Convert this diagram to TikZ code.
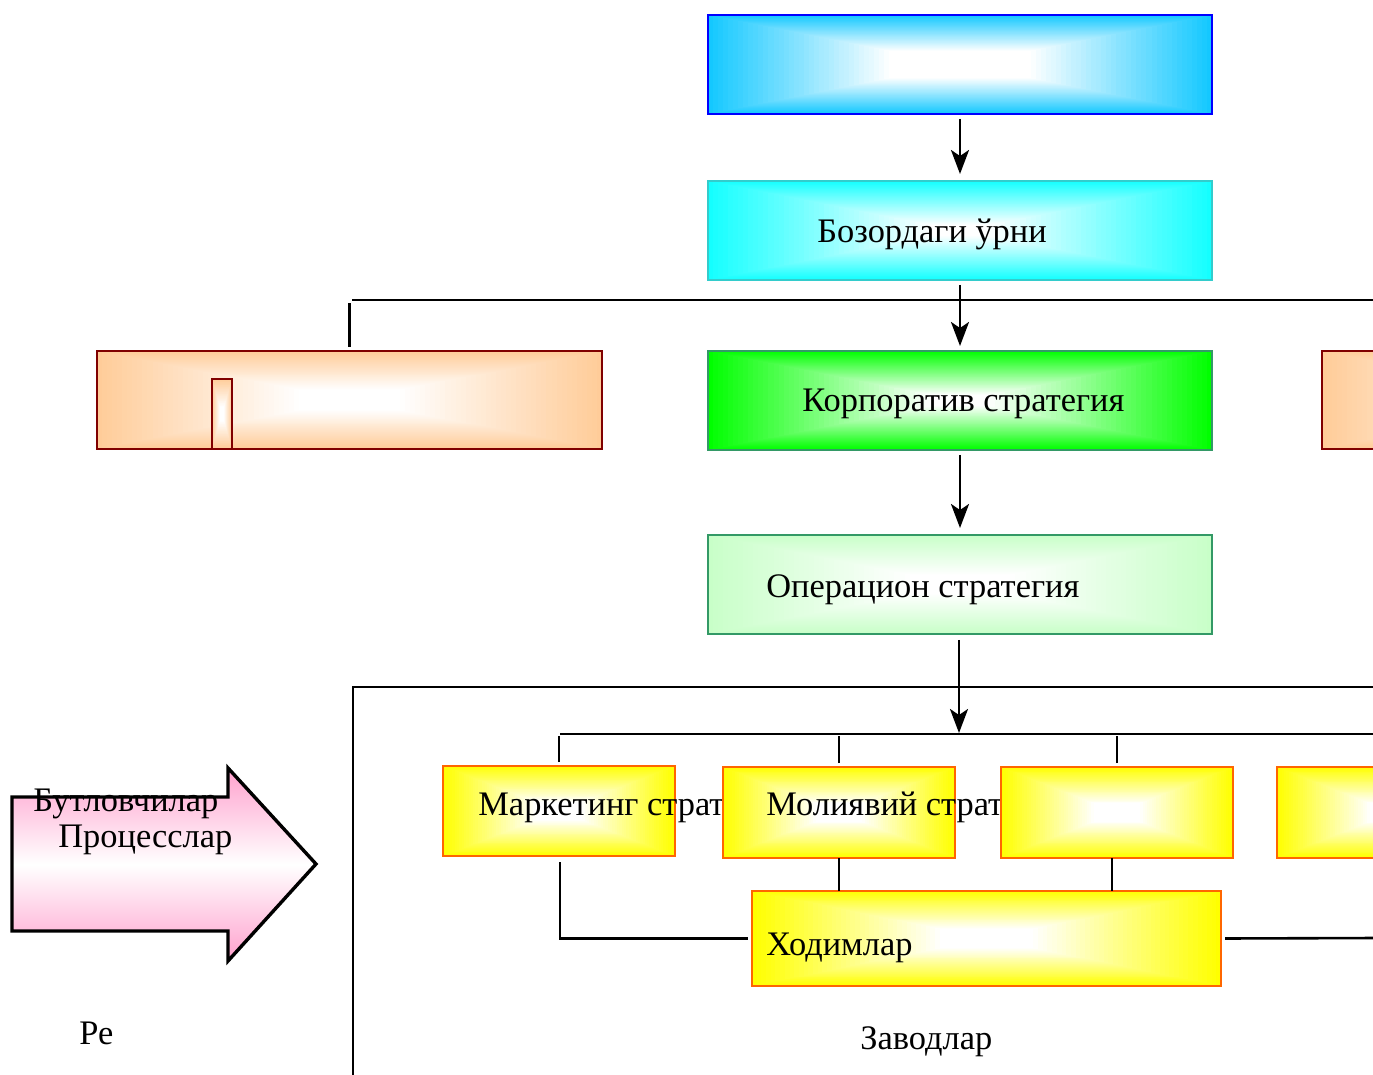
\documentclass[tikz,border=0pt]{standalone}
\usepackage{fontspec}
\setmainfont{Liberation Serif}
\usetikzlibrary{arrows.meta,calc,fit}
\definecolor{cSky}{RGB}{20,200,255}
\definecolor{cAqua}{RGB}{20,255,255}
\definecolor{cAquaB}{RGB}{51,204,204}
\definecolor{cGreen}{RGB}{0,255,0}
\definecolor{cGreenB}{RGB}{51,153,102}
\definecolor{cLGreen}{RGB}{200,255,200}
\definecolor{cPeach}{RGB}{255,204,153}
\definecolor{cPeachB}{RGB}{128,0,0}
\definecolor{cYel}{RGB}{255,255,0}
\definecolor{cYelB}{RGB}{255,102,0}
\definecolor{cPink}{RGB}{255,160,205}
\newcommand\gradfill[2]{%
  \foreach \i in {0,...,48}{%
    \pgfmathsetmacro\tt{\i/100}%
    \pgfmathtruncatemacro\pp{max(0,100-100*\i/#2)}%
    \fill[#1!\pp!white] ($(path picture bounding box.south west)!\tt!(path picture bounding box.north east)$) rectangle ($(path picture bounding box.north east)!\tt!(path picture bounding box.south west)$);
  }}
\begin{document}
\begin{tikzpicture}[x=0.5pt,y=-0.5pt,
  box/.style={inner sep=0pt, outer sep=0pt, line width=1pt},
  gfill/.style 2 args={path picture={\gradfill{#1}{#2}}},
  lbl/.style={anchor=base west, inner sep=0pt, font=\fontsize{17.2}{20}\selectfont},
  conn/.style={line width=1.3pt},
  arr/.style={conn, -{Stealth[length=12pt,width=9pt,inset=3pt]}}]
\useasboundingbox (0,0) rectangle (1373,1075);
\clip (0,0) rectangle (1373,1075);
% top chain
\node[box, draw=blue, gfill={cSky}{36}, fit={(708,15) (1212,114)}] (top) {};
\node[box, draw=cAquaB, gfill={cAqua}{44}, fit={(708,181) (1212,280)}] (bozor) {};
\node[lbl] (tbozor) at (817,243) {Бозордаги ўрни};
\node[box, draw=cGreenB, gfill={cGreen}{44}, fit={(708,351) (1212,450)}] (korp) {};
\node[lbl] (tkorp) at (802,412) {Корпоратив стратегия};
\node[box, draw=cGreenB, gfill={cLGreen}{40}, fit={(708,535) (1212,634)}] (oper) {};
\node[lbl] (toper) at (766,598) {Операцион стратегия};
% side boxes
\node[box, draw=cPeachB, gfill={cPeach}{40}, fit={(97,351) (602,449)}] (peachL) {};
\node[box, draw=cPeachB, gfill={cPeach}{40}, fit={(212,379) (232,449)}] (peachS) {};
\node[box, draw=cPeachB, gfill={cPeach}{40}, fit={(1322,351) (1826,449)}] (peachR) {};
% connectors top
\draw[arr] ($(top.south)+(0,5)$) -- ($(bozor.north)+(0,-7)$);
\draw[arr] ($(bozor.south)+(0,5)$) -- ($(korp.north)+(0,-5)$);
\coordinate (hL) at (352,300);
\coordinate (hR) at (1380,300);
\draw[conn] (hL) -- (hR);
\draw[conn] ($(peachL.north)+(0,-4)$) -- ($(peachL.north)+(0,-48)$);
\draw[arr] ($(korp.south)+(0,5)$) -- ($(oper.north)+(0,-7)$);
\coordinate (bus) at (959,733);
\draw[arr] ($(oper.south)+(-1,6)$) -- (bus);
% frame
\coordinate (fBL) at (353,1085);
\coordinate (fTL) at (353,687);
\coordinate (fTR) at (1380,687);
\draw[conn] (fBL) -- (fTL) -- (fTR);
\coordinate (busL) at (560,734);
\coordinate (busR) at (1380,734);
\draw[conn] (busL) -- (busR);
% yellow boxes
\node[box, draw=cYelB, gfill={cYel}{40}, fit={(443,766) (675,856)}] (mkt) {};
\node[lbl] (tmkt) at (478,815) {Маркетинг страт};
\node[box, draw=cYelB, gfill={cYel}{40}, fit={(723,767) (955,858)}] (mol) {};
\node[lbl] (tmol) at (766,815) {Молиявий страт};
\node[box, draw=cYelB, gfill={cYel}{40}, fit={(1001,767) (1233,858)}] (y3) {};
\node[box, draw=cYelB, gfill={cYel}{40}, fit={(1277,767) (1509,858)}] (y4) {};
\node[box, draw=cYelB, gfill={cYel}{40}, fit={(752,891) (1221,986)}] (xod) {};
\node[lbl] (txod) at (766,955) {Ходимлар};
% yellow connectors
\draw[conn] ($(mkt.north)+(0,-4)$) -- ($(mkt.north)+(0,-30)$);
\draw[conn] ($(mol.north)+(0,-4)$) -- ($(mol.north)+(0,-31)$);
\draw[conn] ($(y3.north)+(0,-4)$) -- ($(y3.north)+(0,-31)$);
\draw[conn] ($(mkt.south)+(1,6)$) |- ($(xod.west)+(-4,0)$);
\draw[conn] (mol.south) -- (mol.south |- xod.north);
\draw[conn] ($(y3.south)+(-5,0)$) -- ($(y3.south |- xod.north)+(-5,0)$);
\coordinate (xR) at (1380,938);
\draw[conn] ($(xod.east)+(4,0)$) -- (xR);
% pink arrow
\draw[line width=1.7pt, top color=cPink, bottom color=cPink, middle color=white]
  (12,797) -- (228,797) -- (228,768) -- (316,864) -- (228,961) -- (228,931) -- (12,931) -- cycle;
\node[lbl] (tbut) at (33,812) {Бутловчилар};
\node[lbl] (tproc) at (58,847) {Процесслар};
% bottom texts
\node[lbl] (tre) at (79,1044) {Ре};
\node[lbl] (tzav) at (860,1049) {Заводлар};
\end{tikzpicture}
\end{document}
